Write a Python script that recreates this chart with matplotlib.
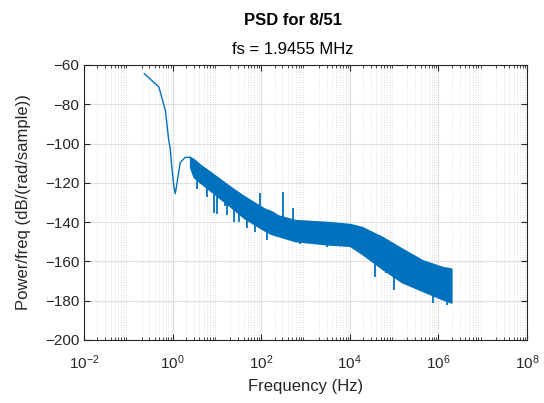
import matplotlib
matplotlib.use("Agg")
import matplotlib.pyplot as plt
import numpy as np
from matplotlib.ticker import LogLocator, NullFormatter

# ---------------------------------------------------------------------------
# DATA — values
# ---------------------------------------------------------------------------
# single trace at the low-frequency end
f_line = [0.23, 0.49, 0.69, 0.82, 0.88, 0.96, 1.07, 1.15, 1.25, 1.49, 1.93, 2.5]
p_line = [-64.4, -71.2, -83.3, -98.6, -102, -112, -122, -125.5, -120.4, -109.6, -107, -107]

# dense noisy part, drawn as an envelope band
f_band  = [2.5, 3.0, 4.3, 7.2, 20, 42, 115, 170, 240, 580, 3300, 1e4,
           1.86e4, 5.4e4, 1.5e5, 4.4e5, 1.23e6, 1.95e6]
band_hi = [-107, -108, -111, -114.6, -122, -127, -133, -134.5, -136.6,
           -139, -140, -141, -142.5, -147.6, -153.5, -159.5, -162.9, -163.7]
band_lo = [-112, -117, -120, -124, -132, -138, -144, -146, -147, -149.6,
           -151.3, -152, -156, -163.7, -170.5, -175, -179.2, -180.9]

# downward notches (frequency, bottom, top)
notch_f   = [3.55, 5.97, 8.4, 10, 15.6, 17, 24, 31, 48, 74, 135, 210, 460,
             770, 3100, 3.8e4, 6.5e4, 1e5, 7.4e5, 1.6e6]
notch_bot = [-123, -127, -135.6, -135.7, -132, -136.6, -140, -140, -143,
             -145, -149, -146.7, -149, -151, -152.7, -167.9, -166, -174.6,
             -181.3, -182]
notch_top = [-112, -116, -120, -122, -124, -126, -128, -130, -134,
             -136, -140, -140, -144, -146, -148, -158, -160, -165, -174, -176]

# upward spikes (frequency, top, bottom)
spike_f   = [96, 310, 525]
spike_top = [-125, -124.8, -133]
spike_bot = [-138, -140, -142]

BLUE = "#0072BD"

# ---------------------------------------------------------------------------
# PLOT
# ---------------------------------------------------------------------------
plt.rcParams["font.family"] = ["Liberation Sans", "DejaVu Sans"]
plt.rcParams["mathtext.fontset"] = "custom"
plt.rcParams["mathtext.rm"] = "Liberation Sans"
plt.rcParams["mathtext.it"] = "Liberation Sans"

fig = plt.figure(figsize=(5.44, 4.03), dpi=100)
ax = fig.add_axes([84 / 544, 1 - 340 / 403, (527 - 84) / 544, (340 - 65) / 403])

ax.plot(f_line, p_line, color=BLUE, linewidth=1.0)
ax.fill_between(f_band, band_lo, band_hi, color=BLUE, linewidth=1.2,
                edgecolor=BLUE)
ax.vlines(notch_f, notch_bot, notch_top, color=BLUE, linewidth=1.3)
ax.vlines(spike_f, spike_bot, spike_top, color=BLUE, linewidth=1.3)

ax.set_xscale("log")
ax.set_xlim(1e-2, 1e8)
ax.set_ylim(-200, -60)
ax.set_xticks([1e-2, 1e0, 1e2, 1e4, 1e6, 1e8])
ax.set_xticklabels([r"$10^{-2}$", r"$10^{0}$", r"$10^{2}$", r"$10^{4}$",
                    r"$10^{6}$", r"$10^{8}$"])
ax.xaxis.set_minor_locator(LogLocator(base=10, subs=np.arange(2, 10), numticks=100))
ax.xaxis.set_minor_formatter(NullFormatter())
ax.set_yticks(np.arange(-200, -59, 20))

ax.grid(True, which="major", color="#e0e0e0", linewidth=0.8)
ax.grid(True, which="minor", axis="x", color="#d4d4d4", linewidth=0.6,
        linestyle=(0, (1, 2)))
ax.set_axisbelow(True)

ax.tick_params(which="both", direction="in", top=True, right=True,
               labelsize=11, colors="#262626")
ax.tick_params(axis="x", which="major", pad=10)
ax.tick_params(which="major", length=4)
ax.tick_params(which="minor", length=2)
for sp in ax.spines.values():
    sp.set_color("#262626")
    sp.set_linewidth(0.8)

ax.set_xlabel("Frequency (Hz)", fontsize=12, color="#262626", labelpad=5)
ax.set_ylabel("Power/freq (dB/(rad/sample))", fontsize=12, color="#262626",
              labelpad=10)

fig.text(293 / 544, 1 - 25 / 403, "PSD for 8/51", ha="center", va="baseline",
         fontsize=12, fontweight="bold", color="black")
fig.text(293 / 544, 1 - 54 / 403, "fs = 1.9455 MHz", ha="center",
         va="baseline", fontsize=12, color="black")

fig.savefig("out.png", dpi=100)
